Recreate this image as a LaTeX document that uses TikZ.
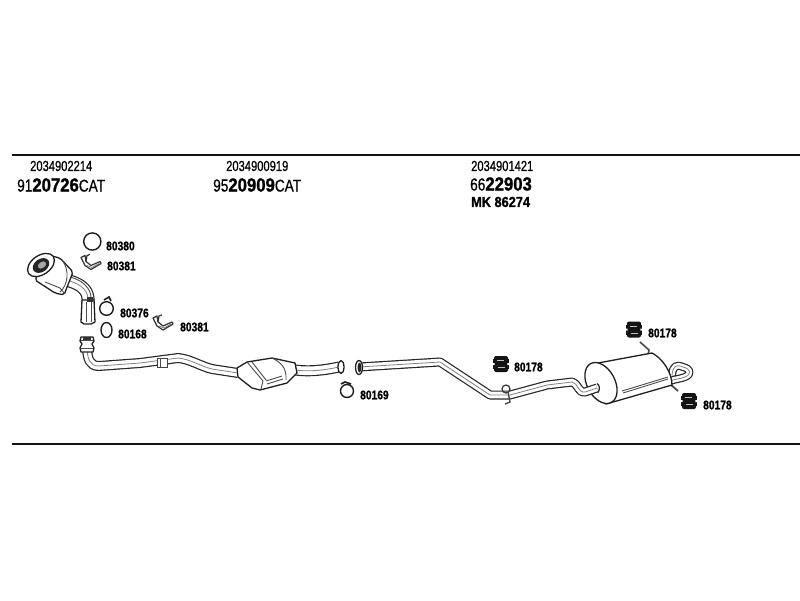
\documentclass[tikz,border=0pt]{standalone}
\usepackage{fontspec}
\setmainfont{Liberation Sans}
\newfontfamily\hv[FakeBold=0.7]{Liberation Sans}
\newfontfamily\hb[BoldFeatures={FakeBold=1.2}]{Liberation Sans}
\newfontfamily\hl[BoldFeatures={FakeBold=1}]{Liberation Sans}
\newcommand{\sq}[2]{\scalebox{#1}[1]{#2}}
\newcommand{\fs}[1]{\fontsize{#1}{#1}\selectfont}
\newcommand{\pipeline}[2]{%
  \draw[line width=#1pt,draw=black!85,line cap=butt,line join=round] #2;
  \draw[line width=#1pt-2.4pt,draw=white,line cap=butt,line join=round] #2;
  \draw[line width=.8pt,draw=black!50] #2;}
\newcommand{\rubberblock}[1]{%
  \begin{scope}[shift={(#1)}]
    \fill[black!92,rounded corners=2pt] (-7,-8) rectangle (7,8);
    \fill[black!92] (-8,-5) rectangle (8,5);
    \fill[white] (-8.2,-1) rectangle (-6.4,1) (6.4,-1) rectangle (8.2,1);
    \draw[black!25,line width=.8pt] (-4,-3.5) -- (3,-3.5) (-3,3.5) -- (4,3.5);
  \end{scope}}
\newcommand{\clipicon}[1]{%
  \begin{scope}[shift={(#1)}]
    \draw[black!80,line width=1.2pt,fill=white,line join=round] (-10,-5) -- (-6,-7) -- (-5,-1) -- (0,3) -- (9,-1) -- (10,1) -- (0,7) -- (-6,3) -- cycle;
    \draw[black!80,line width=1.2pt] (-5,-1) -- (-4,-7) -- (-1,-8);
    \draw[black!55,line width=.7pt] (-4,3) -- (1,5) -- (8,1);
  \end{scope}}
\tikzset{
  partno/.style={inner sep=0pt,anchor=west,font=\hl\bfseries\fs{12.5}},
  headtxt/.style={inner sep=0pt,anchor=west},
  ringpart/.style={draw=black!88,line width=1.4pt,fill=white},
  bodypart/.style={draw=black!88,line width=1.3pt,fill=white,line join=round},
  inner/.style={draw=black!70,line width=.9pt}
}
\begin{document}
\begin{tikzpicture}[x=1pt,y=-1pt]
\useasboundingbox (0,0) rectangle (800,600);
\fill[white] (0,0) rectangle (800,600);
\draw[line width=2pt,black!92] (12,155) -- (800,155);
\draw[line width=2pt,black!92] (12,444) -- (800,444);

% headings
\node[headtxt] (h1a) at (30,166) {\hv\fs{14.5}\sq{.77}{2034902214}};
\node[headtxt] (h1b) at (17,185) {\hv\fs{17.5}\sq{.78}{91}\sq{.88}{\hb\bfseries\fs{19}20726}\sq{.8}{\hv\fs{17}CAT}};
\node[headtxt] (h2a) at (226,166) {\hv\fs{14.5}\sq{.77}{2034900919}};
\node[headtxt] (h2b) at (213,185) {\hv\fs{17.5}\sq{.78}{95}\sq{.88}{\hb\bfseries\fs{19}20909}\sq{.8}{\hv\fs{17}CAT}};
\node[headtxt] (h3a) at (471,166) {\hv\fs{14.5}\sq{.77}{2034901421}};
\node[headtxt] (h3b) at (470,184) {\hv\fs{17.5}\sq{.78}{66}\sq{.88}{\hb\bfseries\fs{19}22903}};
\node[headtxt] (h3c) at (471,202) {\hb\bfseries\fs{14.5}\sq{.88}{MK\hspace{4pt}86274}};

% first catalytic converter
\pipeline{13}{(66,280) .. controls (78,283) and (87,288) .. (88,298) -- (88,323)}
\draw[inner] (70,277) .. controls (82,280) and (91,288) .. (91,298);
\draw[bodypart,rounded corners=2pt] (47,255) -- (60,258) -- (73,272) -- (64,295) -- (55,293) -- (35,280) -- cycle;
\draw[inner] (45,282) -- (60,288) -- (65,294);
\draw[inner] (62,260) .. controls (70,270) and (68,285) .. (60,292);
\draw[bodypart] (41,265) ellipse[x radius=15,y radius=9.5,rotate=35];
\fill[black!85] (41,265.5) ellipse[x radius=9,y radius=6.5,rotate=35];
\fill[black!35] (42,265) ellipse[x radius=4.5,y radius=3,rotate=35];
\draw[bodypart] (82,300) -- (94,300) -- (95,322) -- (91,324) -- (84,324) -- (81,322) -- cycle;
\draw[inner] (86,302) -- (86,322) (91,302) -- (91,322);
\fill[black!80] (87,297) rectangle (93,302);

% ring parts
\draw[ringpart] (92.3,241.5) circle[radius=8.6];
\node[partno] (n80380) at (106,246) {\sq{.82}{80380}};
\clipicon{91,262.5}
\node[partno] (n80381a) at (107,266) {\sq{.82}{80381}};
\draw[ringpart] (106.5,308.5) circle[radius=6.8];
\draw[black!88,line width=1.6pt] (104,300) -- (109,297) -- (111,301);
\node[partno] (n80376) at (120,313) {\sq{.82}{80376}};
\draw[ringpart] (106.5,330) ellipse[x radius=5.5,y radius=7.5];
\node[partno] (n80168) at (118,334) {\sq{.82}{80168}};
\clipicon{163,323}
\node[partno] (n80381b) at (180,327) {\sq{.82}{80381}};

% front pipe
\pipeline{10}{(87,350) .. controls (88,358) and (89,366) .. (99,366) -- (140,363) -- (178,358) .. controls (190,359) and (200,366) .. (212,369) -- (238,373)}
\draw[bodypart] (81,337) -- (93,337) -- (94,341) -- (92,344) -- (94,348) -- (93,352) -- (81,352) -- (80,348) -- (82,344) -- (80,341) -- cycle;
\draw[inner] (81,340) -- (93,340) (81,348) -- (93,348);
\fill[black!80] (83,337) rectangle (91,340);
\draw[black!75,line width=1pt,fill=white] (157,358) rectangle (167,367);
\draw[inner] (160,358) -- (160,367);

% second catalytic converter
\pipeline{11}{(295,370) .. controls (310,372) and (325,370) .. (339,367)}
\draw[bodypart] (237,368) -- (247,362) -- (272,358) -- (295,363) -- (297,373) -- (287,383) -- (260,390) -- (252,388) -- (238,377) -- cycle;
\draw[inner] (247,362) -- (263,381) -- (261,389);
\draw[inner] (252,362) -- (266,380);
\draw[inner] (267,384) -- (283,379) (266,381) -- (282,376);
\draw[inner] (272,358) .. controls (280,362) and (287,367) .. (286,380);
\draw[bodypart] (341,367) ellipse[x radius=3,y radius=6.5];
\draw[ringpart] (347,391) circle[radius=6.5];
\draw[black!88,line width=1.6pt] (341,384) -- (345,382) -- (351,384);
\node[partno] (n80169) at (360,395) {\sq{.82}{80169}};

% rear silencer
\pipeline{8}{(672,375) .. controls (673,366) and (676,364) .. (683,367) .. controls (691,369) and (692,374) .. (685,377) .. controls (680,379) and (675,379) .. (670,381)}
\draw[black!70,line width=1.6pt] (640,342) -- (649,350) -- (648,355);
\draw[black!70,line width=1.8pt] (670,384) -- (678,391);
\draw[bodypart] (598,363) -- (652,353) .. controls (662,358) and (672,372) .. (672,385) -- (620,400) -- (606,404) -- cycle;
\draw[inner] (623,393) -- (668,379) (622,391) -- (668,377);
\draw[bodypart] (601,383) ellipse[x radius=14,y radius=22,rotate=28];

% middle pipe
\pipeline{9}{(359,367) -- (440,362) -- (490,395) -- (510,395) -- (547,385) -- (572,382) .. controls (578,383) and (578,393) .. (585,392) -- (597,388)}
\draw[black!88,line width=1.2pt] (597,383.5) .. controls (600,385) and (600,390) .. (598,392.5);
\draw[bodypart] (359,367.5) ellipse[x radius=3.5,y radius=7];
\fill[black!85] (359.5,367.5) ellipse[x radius=2,y radius=5];
\draw[black!75,line width=1.3pt] (506,389) circle[radius=4];
\draw[black!75,line width=1.3pt] (508,392) -- (510,402) -- (505,404);
\rubberblock{501,364}
\node[partno] (n80178a) at (514,367) {\sq{.82}{80178}};
\rubberblock{634,329.5}
\node[partno] (n80178b) at (648,333) {\sq{.82}{80178}};
\rubberblock{689,401}
\node[partno] (n80178c) at (703,405) {\sq{.82}{80178}};
\end{tikzpicture}
\end{document}
